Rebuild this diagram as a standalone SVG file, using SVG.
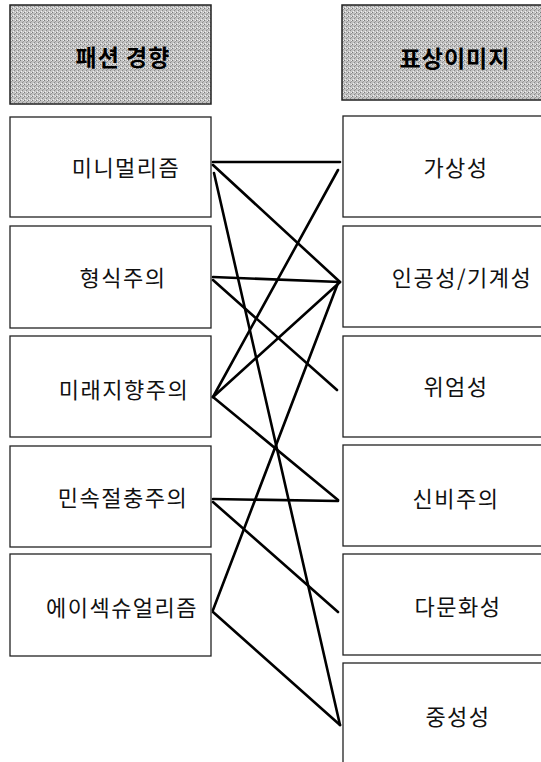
<svg xmlns="http://www.w3.org/2000/svg" width="541" height="762" viewBox="0 0 541 762">
<defs>
<pattern id="stipple" width="4" height="4" patternUnits="userSpaceOnUse">
<rect width="4" height="4" fill="#c2c2c2"/>
<rect x="0" y="0" width="1" height="1" fill="#7a7a7a"/>
<rect x="2" y="2" width="1" height="1" fill="#8a8a8a"/>
<rect x="3" y="1" width="1" height="1" fill="#9a9a9a"/>
<rect x="3" y="0" width="1" height="1" fill="#eeeeee"/>
<rect x="1" y="3" width="1" height="1" fill="#f2f2f2"/>
</pattern>
</defs>
<style>
.hdr{fill:url(#stipple);stroke:#222;stroke-width:1.5}
.box{fill:#fff;stroke:#222;stroke-width:1.3}
.ht{font-family:"Noto Sans CJK KR","Noto Sans",sans-serif;font-size:23px;font-weight:bold;fill:#000;text-anchor:middle}
.t{font-family:"Noto Sans CJK KR","Noto Sans",sans-serif;font-size:22px;fill:#111;text-anchor:middle;letter-spacing:1.5px}
.c line{stroke:#000;stroke-width:2.6;stroke-linecap:round}
</style>
<rect width="541" height="762" fill="#fff"/>
<g id="header-left"><rect class="hdr" x="10" y="5" width="201" height="99"/><text class="ht" x="123" y="66" letter-spacing="1">패션 경향</text></g>
<g id="header-right"><rect class="hdr" x="342" y="5" width="220" height="95"/><text class="ht" x="455" y="67" letter-spacing="1">표상이미지</text></g>
<g id="n-minimal"><rect class="box" x="10" y="117" width="201" height="100"/><text class="t" x="126" y="176">미니멀리즘</text></g>
<g id="n-formal"><rect class="box" x="10" y="226" width="201" height="102"/><text class="t" x="123" y="286">형식주의</text></g>
<g id="n-future"><rect class="box" x="10" y="336" width="201" height="101"/><text class="t" x="124" y="398">미래지향주의</text></g>
<g id="n-folk"><rect class="box" x="10" y="446" width="201" height="101"/><text class="t" x="123" y="506">민속절충주의</text></g>
<g id="n-asexual"><rect class="box" x="10" y="554" width="201" height="102"/><text class="t" x="122" y="616">에이섹슈얼리즘</text></g>
<g id="n-virtual"><rect class="box" x="343" y="116" width="230" height="101"/><text class="t" x="456" y="176">가상성</text></g>
<g id="n-artificial"><rect class="box" x="343" y="226" width="230" height="101"/><text class="t" x="462" y="286">인공성/기계성</text></g>
<g id="n-dignity"><rect class="box" x="343" y="336" width="230" height="101"/><text class="t" x="456" y="395">위엄성</text></g>
<g id="n-mystic"><rect class="box" x="343" y="445" width="230" height="101"/><text class="t" x="456" y="507">신비주의</text></g>
<g id="n-multi"><rect class="box" x="343" y="554" width="230" height="101"/><text class="t" x="458" y="615">다문화성</text></g>
<g id="n-neutral"><rect class="box" x="343" y="663" width="230" height="120"/><text class="t" x="458" y="725">중성성</text></g>
<g id="connectors" class="c">
<line x1="213" y1="162" x2="340" y2="162"/>
<line x1="213" y1="165" x2="340" y2="282"/>
<line x1="214" y1="173" x2="340" y2="725"/>
<line x1="213" y1="277" x2="340" y2="282"/>
<line x1="213" y1="280" x2="337" y2="390"/>
<line x1="213" y1="397" x2="338" y2="170"/>
<line x1="213" y1="397" x2="339" y2="283"/>
<line x1="213" y1="397" x2="338" y2="500"/>
<line x1="213" y1="499" x2="338" y2="501"/>
<line x1="213" y1="502" x2="338" y2="612"/>
<line x1="213" y1="610" x2="338" y2="283"/>
<line x1="213" y1="612" x2="340" y2="725"/>
</g>
</svg>
